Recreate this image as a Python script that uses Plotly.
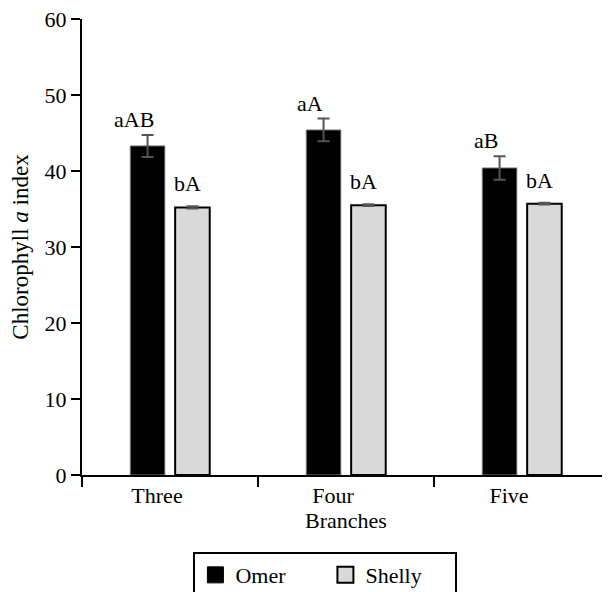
import plotly.graph_objects as go

categories = ["Three", "Four", "Five"]
omer = [43.3, 45.4, 40.4]
omer_err = [1.45, 1.5, 1.55]
shelly = [35.2, 35.5, 35.7]
shelly_err = [0.15, 0.12, 0.12]
omer_labels = ["aAB", "aA", "aB"]
shelly_labels = ["bA", "bA", "bA"]
y_ticks = [0, 10, 20, 30, 40, 50, 60]

FONT = "Liberation Serif"
OMER_COLOR = "black"
SHELLY_COLOR = "#d9d9d9"

fig = go.Figure()
fig.add_trace(go.Bar(
    name="Omer", x=categories, y=omer, showlegend=False,
    marker=dict(color=OMER_COLOR, line=dict(color="#777777", width=1)),
    error_y=dict(type="data", array=omer_err, color="#555555", thickness=2, width=6),
))
fig.add_trace(go.Bar(
    name="Shelly", x=categories, y=shelly, showlegend=False,
    marker=dict(color=SHELLY_COLOR, line=dict(color="black", width=2)),
    error_y=dict(type="data", array=shelly_err, color="#555555", thickness=2, width=6),
))
# legend-only entries with larger square swatches
fig.add_trace(go.Scatter(name="Omer", x=[None], y=[None], mode="markers",
                         marker=dict(symbol="square", size=16, color=OMER_COLOR,
                                     line=dict(color="black", width=1))))
fig.add_trace(go.Scatter(name="Shelly", x=[None], y=[None], mode="markers",
                         marker=dict(symbol="square", size=16, color=SHELLY_COLOR,
                                     line=dict(color="black", width=2))))

annotations = []
for i, c in enumerate(categories):
    annotations.append(dict(x=c, y=omer[i] + omer_err[i], text=omer_labels[i], xref="x", yref="y",
                            showarrow=False, yanchor="bottom", yshift=1, xshift=-36,
                            font=dict(family=FONT, size=22, color="black")))
    annotations.append(dict(x=c, y=shelly[i] + shelly_err[i], text=shelly_labels[i], xref="x", yref="y",
                            showarrow=False, yanchor="bottom", yshift=8, xshift=17,
                            font=dict(family=FONT, size=22, color="black")))

fig.update_layout(
    width=610, height=592,
    margin=dict(l=74, r=8, t=11, b=125, autoexpand=False),
    plot_bgcolor="white", paper_bgcolor="white",
    font=dict(family=FONT, size=22, color="black"),
    barmode="group", bargap=0.49, bargroupgap=0.23,
    showlegend=True,
    legend=dict(orientation="h", x=0.461, xanchor="center", y=-0.169, yanchor="top",
                bordercolor="black", borderwidth=2, font=dict(family=FONT, size=22),
                entrywidth=85),
    annotations=annotations,
    xaxis=dict(showline=True, linecolor="black", linewidth=2, ticks="outside", tickson="boundaries",
               ticklen=10, tickwidth=2, tickcolor="black", automargin=False,
               ticklabelshift=-13,
               title=dict(text="Branches", font=dict(family=FONT, size=22), standoff=5),
               tickfont=dict(family=FONT, size=22)),
    yaxis=dict(range=[0, 60], tickmode="array", tickvals=y_ticks, ticktext=[str(v) for v in y_ticks],
               showline=True, linecolor="black", linewidth=2, ticklabeloverflow="allow",
               ticks="outside", ticklen=9, tickwidth=2, tickcolor="black", showgrid=False,
               zeroline=False, automargin=False,
               title=dict(text="Chlorophyll <i>a</i> index", font=dict(family=FONT, size=23), standoff=11),
               tickfont=dict(family=FONT, size=22)),
)

fig.write_html("out.html")
